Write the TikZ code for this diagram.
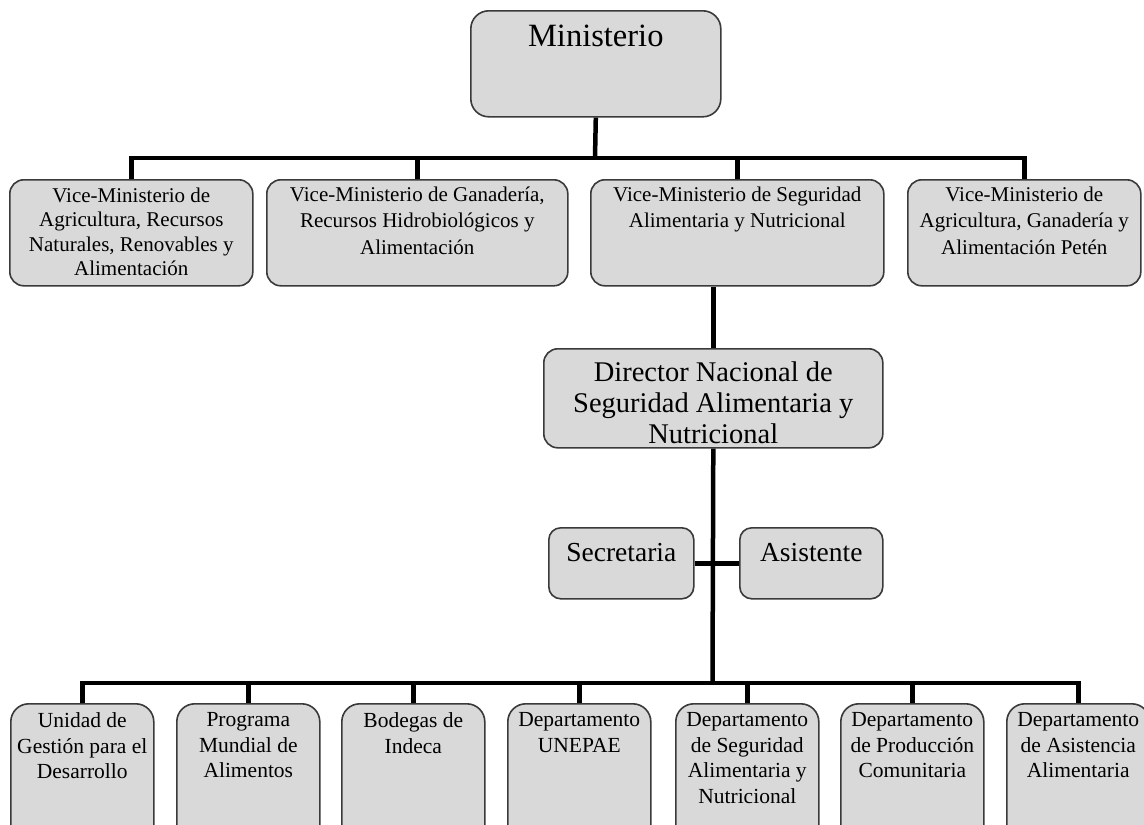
\documentclass[tikz,border=0pt]{standalone}
\usepackage{fontspec}
\setmainfont{Liberation Serif}
\definecolor{boxfill}{HTML}{D9D9D9}
\definecolor{boxedge}{HTML}{3A3A3A}
% fixed-size box content: width, height, top padding, text
\newcommand\boxlabel[4]{\parbox[t][#2pt][t]{#1pt}{\vspace*{#3pt}\centering #4\par}}
\tikzset{
  orgbox/.style={draw=boxedge, fill=boxfill, line width=1.6pt,
    rounded corners=#1, inner sep=0pt, anchor=north west},
  orgbox/.default=14pt,
  link/.style={draw=black, line width=4.5pt},
  vicefont/.style={font=\fontsize{21}{26.5}\selectfont},
  deptfont/.style={font=\fontsize{21.5}{25.5}\selectfont},
}
\begin{document}
\begin{tikzpicture}[x=1pt, y=-1pt]
\useasboundingbox (0,0) rectangle (1144,825);
\clip (0,0) rectangle (1144,825);
\fill[white] (0,0) rectangle (1144,825);

% top level
\node[orgbox=18pt, font=\fontsize{32.5}{36}\selectfont] (min) at (470,10)
  {\boxlabel{250}{106}{14}{Ministerio}};

% vice-ministries
\node[orgbox, font=\fontsize{21}{24.5}\selectfont] (vm1) at (9,179)
  {\boxlabel{243}{106}{8}{Vice-Ministerio de\\Agricultura, Recursos\\Naturales, Renovables y\\Alimentación}};
\node[orgbox, vicefont] (vm2) at (266,179)
  {\boxlabel{301}{106}{7}{Vice-Ministerio de Ganadería,\\Recursos Hidrobiológicos y\\Alimentación}};
\node[orgbox, vicefont] (vm3) at (590,179)
  {\boxlabel{293}{106}{7}{Vice-Ministerio de Seguridad\\Alimentaria y Nutricional}};
\node[orgbox, vicefont] (vm4) at (907,179)
  {\boxlabel{233}{106}{7}{Vice-Ministerio de\\Agricultura, Ganadería y\\Alimentación Petén}};

% national director and staff
\node[orgbox, font=\fontsize{28.5}{31}\selectfont] (dir) at (543,348)
  {\boxlabel{339}{99}{13}{Director Nacional de\\Seguridad Alimentaria y\\Nutricional}};
\node[orgbox=12pt, font=\fontsize{27.5}{30}\selectfont] (sec) at (548,527)
  {\boxlabel{145}{71}{15}{Secretaria}};
\node[orgbox=12pt, font=\fontsize{27.5}{30}\selectfont] (asi) at (739,527)
  {\boxlabel{143}{71}{15}{Asistente}};

% departments
\node[orgbox=18pt, deptfont] (d1) at (10,703)
  {\boxlabel{143}{140}{9}{Unidad de\\Gestión para el\\Desarrollo}};
\node[orgbox=18pt, deptfont] (d2) at (176,703)
  {\boxlabel{143}{140}{9}{Programa\\Mundial de\\Alimentos}};
\node[orgbox=18pt, deptfont] (d3) at (341,703)
  {\boxlabel{143}{140}{9}{Bodegas de\\Indeca}};
\node[orgbox=18pt, deptfont] (d4) at (507,703)
  {\boxlabel{143}{140}{9}{Departamento\\UNEPAE}};
\node[orgbox=18pt, deptfont] (d5) at (675,703)
  {\boxlabel{143}{140}{9}{Departamento\\de Seguridad\\Alimentaria y\\Nutricional}};
\node[orgbox=18pt, deptfont] (d6) at (840,703)
  {\boxlabel{143}{140}{9}{Departamento\\de Producción\\Comunitaria}};
\node[orgbox=18pt, deptfont] (d7) at (1006,703)
  {\boxlabel{143}{140}{9}{Departamento\\de Asistencia\\Alimentaria}};

% bus junctions
\coordinate (topbus) at (595,158);
\coordinate (lowbus) at (712.5,683);

% connectors
\draw[link] (min.south) -- (topbus);
\draw[link] (vm1.north) |- (topbus) -| (vm4.north);
\draw[link] (vm2.north) -- (vm2.north |- topbus);
\draw[link] (vm3.north) -- (vm3.north |- topbus);
\draw[link] (dir.north) -- (dir.north |- vm3.south);
\draw[link] (dir.south) -- (lowbus);
\draw[link] (sec.east) -- (asi.west);
\draw[link] (d1.north) |- (lowbus) -| (d7.north);
\foreach \d in {d2,d3,d4,d5,d6}
  \draw[link] (\d.north) -- (\d.north |- lowbus);
\end{tikzpicture}
\end{document}
